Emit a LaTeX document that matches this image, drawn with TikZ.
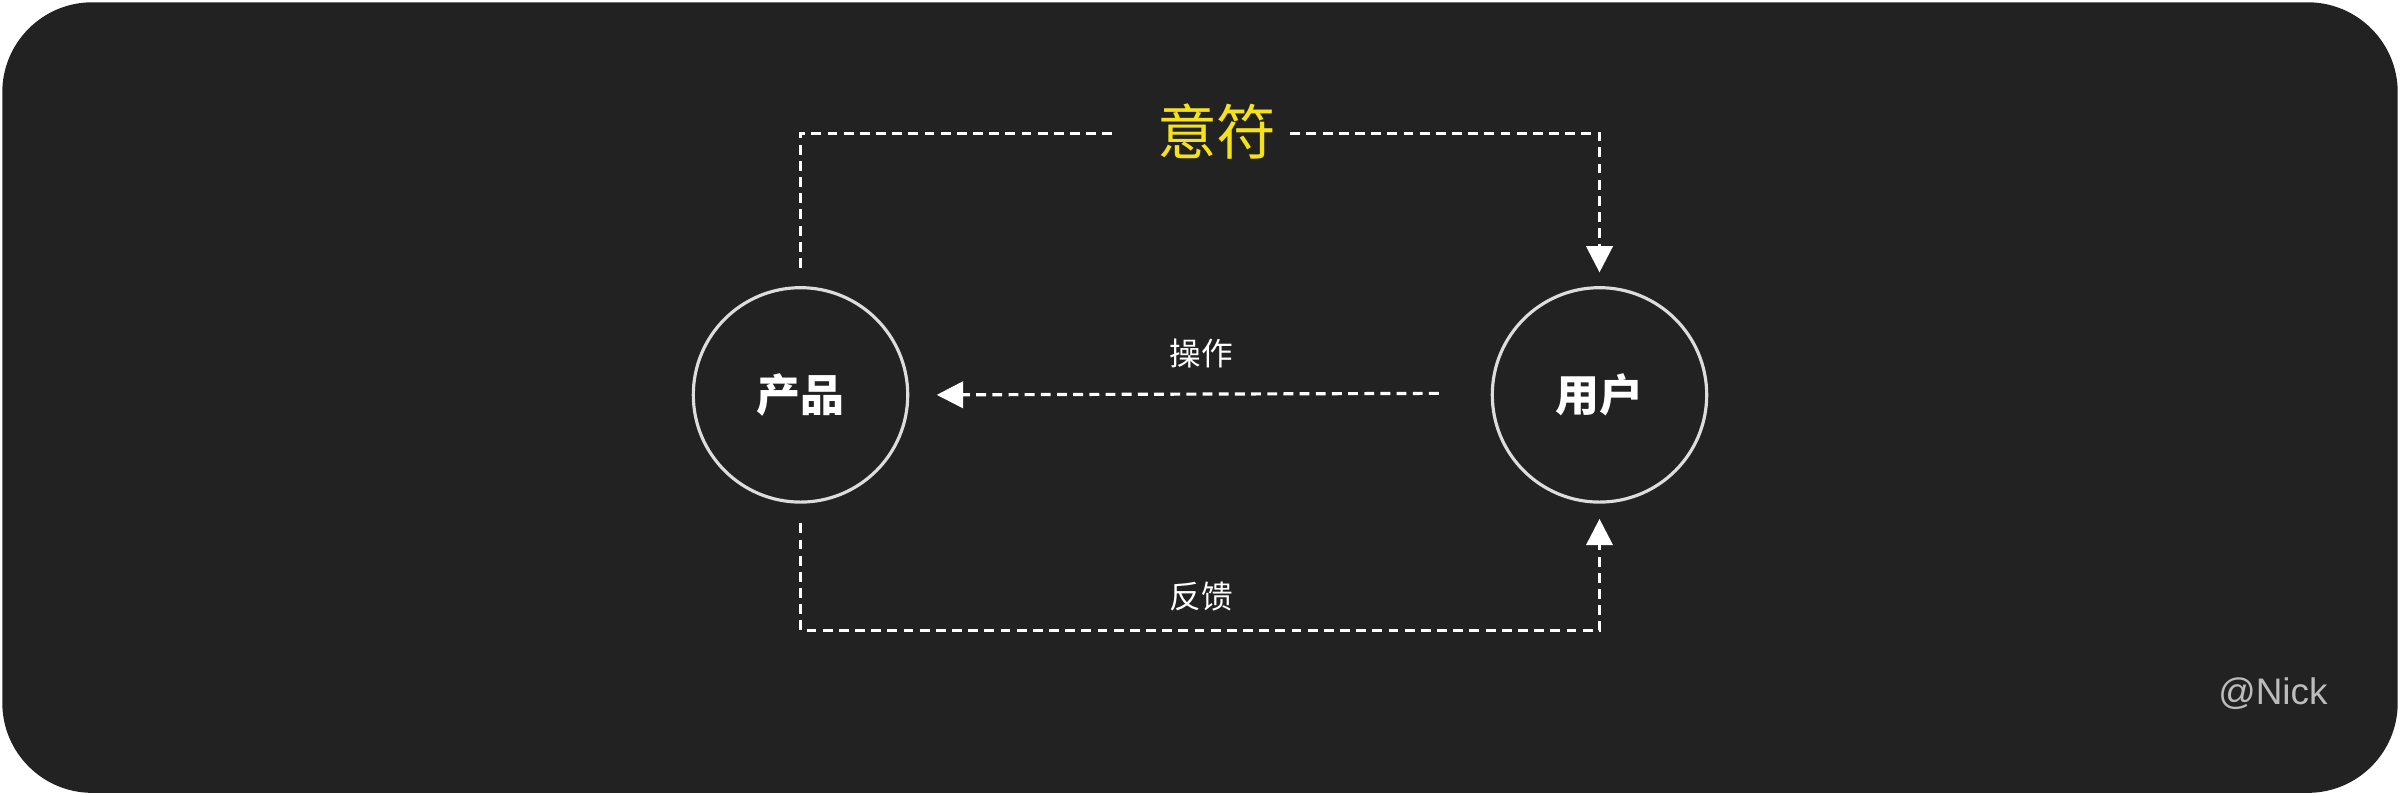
\documentclass[tikz,border=0pt]{standalone}
\usepackage{fontspec}
\newfontfamily\cjk{Noto Sans CJK SC}
\setsansfont{Liberation Sans}
\usetikzlibrary{arrows.meta}
\definecolor{bg}{HTML}{222222}
\definecolor{ring}{HTML}{DDDDDD}
\definecolor{yel}{HTML}{F5E21B}
\tikzset{
  ringnode/.style={circle,draw=ring,line width=0.9pt,minimum size=61pt,inner sep=0pt,text=white,font=\cjk\bfseries\fontsize{12.5pt}{14pt}\selectfont},
  flow/.style={draw=white,line width=0.9pt,dash pattern=on 2.8pt off 1.8pt},
  tipped/.style={flow,-{Triangle[length=7.5pt,width=7.5pt]}},
  lab/.style={text=white,font=\cjk\fontsize{9pt}{10pt}\selectfont}
}
\begin{document}
\begin{tikzpicture}[x=0.01531cm,y=-0.01531cm]
\useasboundingbox (0,0) rectangle (1568,519.5);
\fill[bg,rounded corners=0.9cm] (1.5,1.5) rectangle (1566.5,518);
\node[ringnode] (p) at (523,258) {产品};
\node[ringnode] (u) at (1045,258) {用户};
\node[text=yel,font=\cjk\fontsize{17pt}{19pt}\selectfont] (sig) at (795,86) {意符};
\node[lab] (op) at (785,231) {操作};
\node[lab] (fb) at (785,390) {反馈};
\node[text=ring!85!black,font=\sffamily\fontsize{10.5pt}{12pt}\selectfont] (nick) at (1485,453) {@Nick};
\coordinate (t1) at (523,175);
\coordinate (t2) at (523,87);
\coordinate (t3) at (727,87);
\coordinate (t4) at (843,87);
\coordinate (t5) at (1045,87);
\coordinate (t6) at (1045,178);
\draw[flow] (t1) -- (t2) -- (t3);
\draw[tipped] (t4) -- (t5) -- (t6);
\coordinate (m1) at (940,257);
\coordinate (m2) at (612,258);
\draw[tipped] (m1) -- (m2);
\coordinate (b1) at (523,342);
\coordinate (b2) at (523,412);
\coordinate (b3) at (1045,412);
\coordinate (b4) at (1045,339);
\draw[tipped] (b1) -- (b2) -- (b3) -- (b4);
\end{tikzpicture}
\end{document}
